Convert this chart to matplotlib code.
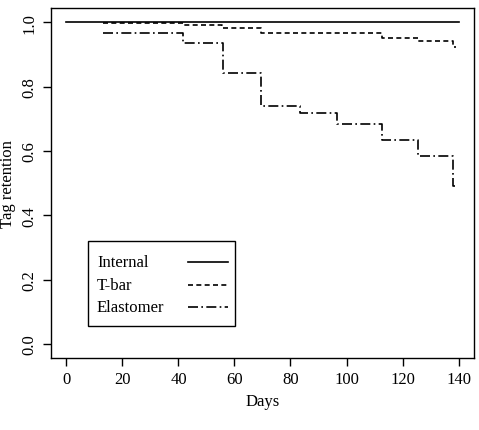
import matplotlib
matplotlib.use("Agg")
import matplotlib.pyplot as plt
from matplotlib.patches import Rectangle
from matplotlib.lines import Line2D

plt.rcParams['font.family'] = ['Liberation Serif']

internal_x = [0, 140]
internal_y = [1.0, 1.0]
tbar_x = [13, 41.9, 55.5, 69.4, 112.8, 125.7, 138.2, 139]
tbar_y = [0.996, 0.99, 0.982, 0.967, 0.952, 0.942, 0.923, 0.923]
elast_x = [13, 41.5, 55.8, 69.4, 83.4, 96.7, 112.8, 125.7, 138.2, 139]
elast_y = [0.966, 0.935, 0.842, 0.738, 0.719, 0.682, 0.633, 0.583, 0.49, 0.49]
labels = ['Internal', 'T-bar', 'Elastomer']
styles = ['-', (0, (3, 2)), (0, (6, 2, 1, 2))]

fig = plt.figure(figsize=(4.79, 4.31), dpi=100)
ax = fig.add_axes([0.106, 0.167, 0.884, 0.812])
ax.plot(internal_x, internal_y, color='black', lw=1.2, ls=styles[0])
ax.step(tbar_x, tbar_y, where='post', color='black', lw=1.2, ls=styles[1])
ax.step(elast_x, elast_y, where='post', color='black', lw=1.2, ls=styles[2])
ax.set_xlim(-5.6, 145.6)
ax.set_ylim(-0.044, 1.044)
ax.set_xticks(range(0, 141, 20))
ax.set_yticks([0, 0.2, 0.4, 0.6, 0.8, 1.0])
ax.set_yticklabels(['0.0', '0.2', '0.4', '0.6', '0.8', '1.0'], rotation=90, va='center')
ax.tick_params(direction='out', length=6, labelsize=12, width=1)
ax.set_xlabel('Days', fontsize=12)
ax.set_ylabel('Tag retention', fontsize=12)
for s in ax.spines.values():
    s.set_linewidth(1)

# legend drawn manually (R style: text left, line samples right)
ax.add_patch(Rectangle((0.087, 0.091), 0.348, 0.243, transform=ax.transAxes,
                       fill=False, edgecolor='black', lw=1))
for lab, st, yy in zip(labels, styles, [0.274, 0.209, 0.146]):
    ax.text(0.109, yy, lab, transform=ax.transAxes, fontsize=12, va='center', ha='left')
    ax.add_line(Line2D([0.324, 0.418], [yy, yy], transform=ax.transAxes,
                       color='black', lw=1.2, ls=st))
fig.savefig('out.png', dpi=100)
